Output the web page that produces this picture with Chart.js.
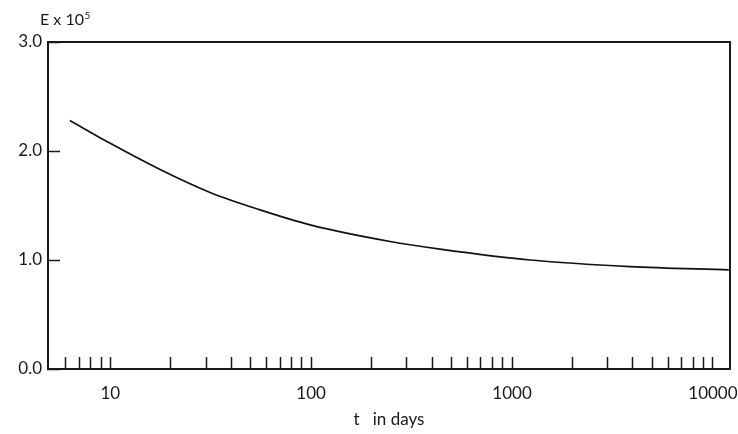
<!DOCTYPE html>
<html>
<head>
<meta charset="utf-8">
<script src="https://cdn.jsdelivr.net/npm/chart.js@4.4.0/dist/chart.umd.min.js"></script>
<style>
  html, body { margin: 0; padding: 0; background: #ffffff; }
  #c { display: block; }
</style>
</head>
<body>
<canvas id="c" width="738" height="434"></canvas>
<script>
// ---- data ----
const timeDays = [6.3, 10, 17.7, 31.4, 55.7, 100, 247, 438, 1230, 3860, 12000];
const modulusE = [2.28, 2.07, 1.83, 1.62, 1.46, 1.32, 1.17, 1.10, 1.00, 0.94, 0.91];
const xTickValues = [6, 7, 8, 9, 10, 20, 30, 40, 50, 60, 70, 80, 90, 100,
                     200, 300, 400, 500, 600, 700, 800, 900, 1000,
                     2000, 3000, 4000, 5000, 6000, 7000, 8000, 9000, 10000];
const xTickLabels = ['10', '100', '1000', '10000'];
const yTickValues = [0, 1, 2, 3];
const yTickLabels = ['0.0', '1.0', '2.0', '3.0'];
const xAxisTitle = 't   in days';
const yAxisTitleBase = 'E x 10';
const yAxisTitleExp = '5';

const FONT = 'Lato, "Open Sans", sans-serif';
const INK = '#1a1a1a';

const framePlugin = {
  id: 'frame',
  afterDraw(chart) {
    const a = chart.chartArea, ctx = chart.ctx;
    ctx.save();
    ctx.strokeStyle = INK;
    ctx.lineWidth = 2;
    ctx.beginPath();
    ctx.moveTo(a.left, a.top);
    ctx.lineTo(a.right, a.top);
    ctx.lineTo(a.right, a.bottom);
    ctx.stroke();
    // y-axis caption "E x 10^5"
    ctx.fillStyle = INK;
    ctx.textBaseline = 'alphabetic';
    ctx.textAlign = 'left';
    ctx.font = '16px ' + FONT;
    const tx = a.left - 8, ty = a.top - 17;
    ctx.fillText(yAxisTitleBase, tx, ty);
    const w = ctx.measureText(yAxisTitleBase).width;
    ctx.font = '10px ' + FONT;
    ctx.fillText(yAxisTitleExp, tx + w + 0.5, ty - 6);
    ctx.restore();
  }
};

new Chart(document.getElementById('c'), {
  type: 'line',
  data: {
    datasets: [{
      data: timeDays.map((t, i) => ({ x: t, y: modulusE[i] })),
      borderColor: '#111111',
      borderWidth: 1.7,
      pointRadius: 0,
      cubicInterpolationMode: 'monotone',
      fill: false
    }]
  },
  options: {
    responsive: false,
    animation: false,
    devicePixelRatio: 1,
    layout: { padding: { top: 42, left: 16, right: 8, bottom: 0 } },
    plugins: { legend: { display: false }, tooltip: { enabled: false } },
    scales: {
      x: {
        type: 'logarithmic',
        position: 'bottom',
        min: 4.9,
        max: 12160,
        afterBuildTicks(scale) {
          scale.ticks = xTickValues.map(v => ({ value: v }));
        },
        afterFit(scale) {
          scale.height = 65;
          scale.paddingLeft = 0;
          scale.paddingRight = 0;
        },
        ticks: {
          autoSkip: false,
          maxRotation: 0,
          minRotation: 0,
          padding: 26,
          color: INK,
          font: { family: FONT, size: 17 },
          callback(value) {
            const s = String(value);
            return xTickLabels.includes(s) ? s : '';
          }
        },
        grid: {
          drawOnChartArea: false,
          drawTicks: true,
          tickLength: -12,
          tickColor: INK,
          tickWidth: 1.5
        },
        border: { display: true, color: INK, width: 2 },
        title: {
          display: true,
          text: xAxisTitle,
          color: INK,
          font: { family: FONT, size: 17 },
          padding: { top: 4, bottom: 4 }
        }
      },
      y: {
        type: 'linear',
        position: 'left',
        min: 0,
        max: 3,
        afterBuildTicks(scale) {
          scale.ticks = yTickValues.map(v => ({ value: v }));
        },
        afterFit(scale) {
          scale.width = 32;
          scale.paddingTop = 0;
          scale.paddingBottom = 0;
        },
        ticks: {
          padding: 18,
          color: INK,
          font: { family: FONT, size: 17 },
          callback(value) {
            const i = yTickValues.indexOf(value);
            return i >= 0 ? yTickLabels[i] : '';
          }
        },
        grid: {
          drawOnChartArea: false,
          drawTicks: true,
          tickLength: -12,
          tickColor: INK,
          tickWidth: 1.5
        },
        border: { display: true, color: INK, width: 2 }
      }
    }
  },
  plugins: [framePlugin]
});
</script>
</body>
</html>
